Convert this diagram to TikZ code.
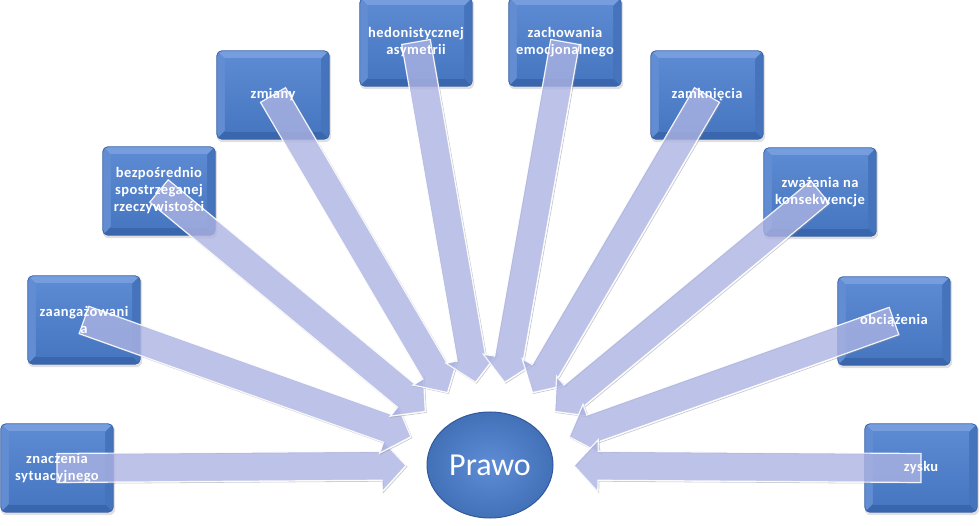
\documentclass[tikz,border=0pt]{standalone}
\usepackage{fontspec}
\newfontfamily\boxfont{Carlito Bold}[LetterSpace=3]
\newfontfamily\cirfont{Carlito}
\usetikzlibrary{calc,shapes.geometric}
\pgfdeclarelayer{bg}\pgfdeclarelayer{mid}
\pgfsetlayers{bg,mid,main}
\definecolor{bvface}{HTML}{5282CA}
\definecolor{bvfacetop}{HTML}{5B8AD2}
\definecolor{bvfacebot}{HTML}{4877C2}
\definecolor{bvtop}{HTML}{769EDE}
\definecolor{bvleft}{HTML}{638DD3}
\definecolor{bvbot}{HTML}{3A66AE}
\definecolor{bvright}{HTML}{4574BD}
\definecolor{bvline}{HTML}{3963A8}
\definecolor{arrfill}{HTML}{ACB3E2}
\definecolor{cirin}{HTML}{5E8DD6}
\definecolor{cirout}{HTML}{4371B8}
\definecolor{cirline}{HTML}{30599C}
\tikzset{
  boxnode/.style={rectangle, minimum width=112pt, minimum height=88pt, inner sep=0pt,
    text=white, align=center, font=\boxfont\fontsize{14.5}{17}\selectfont},
  blockarrow/.style={fill=arrfill, fill opacity=0.8, draw=white, draw opacity=0.9, line width=1.2pt, line join=miter},
  arrshadow/.style={draw=black!45, draw opacity=0.45, line width=0.8pt},
}
\newcommand\bevelbox[1]{%
  \fill[black, opacity=0.12, rounded corners=6pt] ($(#1.north west)+(0,1)$) rectangle ($(#1.south east)+(2,3)$);
  \begin{scope}
    \clip[rounded corners=5pt] (#1.north west) rectangle (#1.south east);
    \fill[bvface] (#1.north west) rectangle (#1.south east);
    \fill[bvtop] (#1.north west) -- (#1.north east) -- ($(#1.north east)+(-8,8)$) -- ($(#1.north west)+(8,8)$) -- cycle;
    \fill[bvleft] (#1.north west) -- ($(#1.north west)+(8,8)$) -- ($(#1.south west)+(8,-8)$) -- (#1.south west) -- cycle;
    \fill[bvbot] (#1.south west) -- ($(#1.south west)+(8,-8)$) -- ($(#1.south east)+(-8,-8)$) -- (#1.south east) -- cycle;
    \fill[bvright] (#1.north east) -- ($(#1.north east)+(-8,8)$) -- ($(#1.south east)+(-8,-8)$) -- (#1.south east) -- cycle;
    \shade[top color=bvfacetop, bottom color=bvfacebot] ($(#1.north west)+(8,8)$) rectangle ($(#1.south east)+(-8,-8)$);
  \end{scope}
  \draw[bvline, line width=0.8pt, rounded corners=5pt] (#1.north west) rectangle (#1.south east);
}
\newcommand\blockarr[2]{%
  \coordinate (#1h) at ($(#2)!24pt!(#1.center)$);
  \draw[arrshadow] ($(#1.center)!14.5pt!90:(#2)+(1,1)$) -- ($(#1h)!14.5pt!90:(#2)+(1,1)$) -- ($(#1h)!26pt!90:(#2)+(1,1)$) -- ($(#2)+(1,1)$) -- ($(#1h)!26pt!-90:(#2)+(1,1)$) -- ($(#1h)!14.5pt!-90:(#2)+(1,1)$) -- ($(#1.center)!14.5pt!-90:(#2)+(1,1)$);
  \draw[blockarrow] ($(#1.center)!14.5pt!90:(#2)$) -- ($(#1h)!14.5pt!90:(#2)$) -- ($(#1h)!26pt!90:(#2)$) -- (#2) -- ($(#1h)!26pt!-90:(#2)$) -- ($(#1h)!14.5pt!-90:(#2)$) -- ($(#1.center)!14.5pt!-90:(#2)$) -- cycle;
}
\begin{document}
\begin{tikzpicture}[x=1pt,y=-1pt]
\useasboundingbox (0,0) rectangle (980,526);
% center
\node[ellipse, minimum width=126pt, minimum height=106pt, inner sep=0pt,
  shading=radial, inner color=cirin, outer color=cirout, draw=cirline, line width=1pt,
  text=white, font=\cirfont\fontsize{32}{36}\selectfont] (c) at (490,465) {Prawo};
% boxes
\node[boxnode] (b1) at (57,468) {znaczenia\\sytuacyjnego};
\node[boxnode] (b2) at (84,320) {zaangażowani\\a};
\node[boxnode] (b3) at (159,191) {bezpośrednio\\spostrzeganej\\rzeczywistości};
\node[boxnode] (b4) at (273,95) {zmiany};
\node[boxnode] (b5) at (416,42) {hedonistycznej\\asymetrii};
\node[boxnode] (b6) at (565,42) {zachowania\\emocjonalnego};
\node[boxnode] (b7) at (707,95) {zamknięcia};
\node[boxnode] (b8) at (820,192) {zważania na\\konsekwencje};
\node[boxnode] (b9) at (894,321) {obciążenia};
\node[boxnode] (b10) at (921,468) {zysku};
\begin{pgfonlayer}{bg}
  \foreach \b in {b1,b2,b3,b4,b5,b6,b7,b8,b9,b10} {\bevelbox{\b}}
\end{pgfonlayer}
\begin{pgfonlayer}{mid}
  \foreach \b in {b1,b2,b3,b4,b5,b6,b7,b8,b9,b10} {
    \coordinate (t\b) at ($(c.center)!84pt!(\b.center)$);
    \blockarr{\b}{t\b}
  }
\end{pgfonlayer}
\end{tikzpicture}
\end{document}
